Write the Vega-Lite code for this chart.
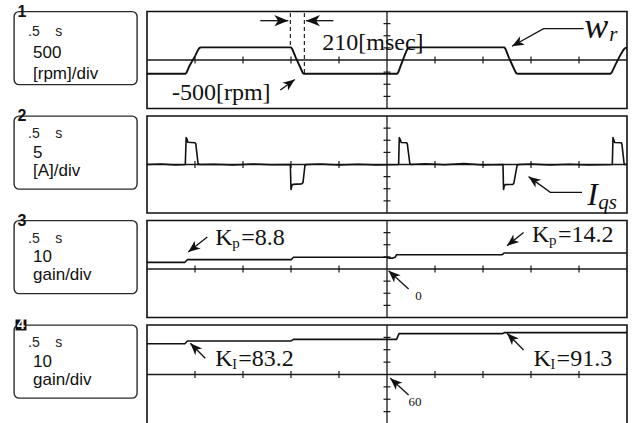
{
  "$schema": "https://vega.github.io/schema/vega-lite/v6.json",
  "padding": {"left": 13, "top": 2.5, "right": 2, "bottom": 0},
  "background": "white",
  "bounds": "flush",
  "columns": 2,
  "spacing": {"row": 7.5, "column": 10},
  "config": {"axis": {"disable": true}, "view": {"stroke": "#111"}},
  "datasets": {
    "tdivs": [{"t": -2}, {"t": -1.5}, {"t": -1}, {"t": -0.5}, {"t": 0.5}, {"t": 1}, {"t": 1.5}, {"t": 2}],
    "vdivs": [{"d": -3}, {"d": -2}, {"d": -1}, {"d": 1}, {"d": 2}, {"d": 3}],
    "speed": [
      {"t": -2.5, "v": -570}, {"t": -2.101, "v": -570}, {"t": -2.088, "v": -520}, {"t": -2.06, "v": -260}, {"t": -2.0, "v": 160}, {"t": -1.968, "v": 420}, {"t": -1.952, "v": 505}, {"t": -1.93, "v": 520},
      {"t": -1.0, "v": 520}, {"t": -0.988, "v": 460}, {"t": -0.95, "v": 100}, {"t": -0.9, "v": -330}, {"t": -0.878, "v": -530}, {"t": -0.862, "v": -570},
      {"t": 0.104, "v": -570}, {"t": 0.116, "v": -520}, {"t": 0.15, "v": -160}, {"t": 0.19, "v": 250}, {"t": 0.214, "v": 470}, {"t": 0.232, "v": 515}, {"t": 0.25, "v": 520},
      {"t": 1.222, "v": 520}, {"t": 1.234, "v": 460}, {"t": 1.27, "v": 100}, {"t": 1.32, "v": -340}, {"t": 1.343, "v": -530}, {"t": 1.358, "v": -570},
      {"t": 2.326, "v": -570}, {"t": 2.34, "v": -520}, {"t": 2.38, "v": -190}, {"t": 2.43, "v": 200}, {"t": 2.465, "v": 430}, {"t": 2.485, "v": 500}, {"t": 2.5, "v": 512}
    ],
    "current": [
      {"t": -2.5, "v": 0}, {"t": -2.35, "v": 0.2}, {"t": -2.2, "v": -0.2}, {"t": -2.101, "v": 0}, {"t": -2.092, "v": 11.1}, {"t": -2.083, "v": 10.5}, {"t": -2.075, "v": 9.2}, {"t": -2.0, "v": 9.0}, {"t": -1.992, "v": 8.6}, {"t": -1.968, "v": 0.3}, {"t": -1.955, "v": 0},
      {"t": -1.8, "v": 0.1}, {"t": -1.6, "v": -0.2}, {"t": -1.4, "v": 0.2}, {"t": -1.2, "v": -0.1},
      {"t": -1.007, "v": 0}, {"t": -1.0, "v": -10.3}, {"t": -0.99, "v": -8.6}, {"t": -0.98, "v": -8.2}, {"t": -0.89, "v": -8.0}, {"t": -0.875, "v": -7.5}, {"t": -0.855, "v": -0.4}, {"t": -0.84, "v": 0},
      {"t": -0.7, "v": 0.2}, {"t": -0.5, "v": -0.2}, {"t": -0.3, "v": 0.1}, {"t": -0.1, "v": -0.2},
      {"t": 0.121, "v": 0}, {"t": 0.128, "v": 11.1}, {"t": 0.138, "v": 10.3}, {"t": 0.148, "v": 9.1}, {"t": 0.205, "v": 9.0}, {"t": 0.212, "v": 8.4}, {"t": 0.238, "v": 0.3}, {"t": 0.25, "v": 0},
      {"t": 0.4, "v": 0.3}, {"t": 0.6, "v": -0.1}, {"t": 0.8, "v": 0.4}, {"t": 1.0, "v": -0.2},
      {"t": 1.208, "v": 0}, {"t": 1.214, "v": -10.3}, {"t": 1.222, "v": -8.7}, {"t": 1.232, "v": -8.3}, {"t": 1.31, "v": -8.2}, {"t": 1.322, "v": -7.6}, {"t": 1.355, "v": -0.4}, {"t": 1.37, "v": 0},
      {"t": 1.5, "v": 0.2}, {"t": 1.7, "v": -0.2}, {"t": 1.9, "v": 0.1}, {"t": 2.1, "v": -0.2},
      {"t": 2.347, "v": 0}, {"t": 2.354, "v": 11.1}, {"t": 2.362, "v": 10.2}, {"t": 2.372, "v": 9.1}, {"t": 2.44, "v": 9.0}, {"t": 2.447, "v": 8.4}, {"t": 2.47, "v": 0.3}, {"t": 2.48, "v": 0}, {"t": 2.5, "v": 0}
    ],
    "kp": [
      {"t": -2.5, "v": 5.5}, {"t": -2.105, "v": 5.5}, {"t": -2.08, "v": 7.7}, {"t": -0.998, "v": 7.7}, {"t": -0.975, "v": 9.7}, {"t": 0.0, "v": 9.7}, {"t": 0.02, "v": 9.0}, {"t": 0.06, "v": 9.0}, {"t": 0.085, "v": 9.7}, {"t": 0.1, "v": 11.8}, {"t": 1.2, "v": 11.8}, {"t": 1.222, "v": 13.2}, {"t": 2.5, "v": 13.2}
    ],
    "ki": [
      {"t": -2.5, "v": 84.9}, {"t": -2.105, "v": 84.9}, {"t": -2.08, "v": 87.1}, {"t": -0.998, "v": 87.1}, {"t": -0.975, "v": 88.4}, {"t": 0.1, "v": 88.4}, {"t": 0.125, "v": 93.0}, {"t": 1.2, "v": 93.0}, {"t": 1.222, "v": 93.8}, {"t": 2.5, "v": 93.8}
    ]
  },
  "concat": [
    {
      "width": 123, "height": 73,
      "view": {"stroke": "#2a2a2a", "strokeWidth": 1.4, "cornerRadius": 5},
      "data": {"values": [{"row": 0, "label": "1"}, {"row": 1, "label": ".5\u00a0\u00a0\u00a0\u00a0s"}, {"row": 2, "label": "500"}, {"row": 3, "label": "[rpm]/div"}]},
      "encoding": {"y": {"field": "row", "type": "quantitative", "scale": {"domain": [0, 3.53], "reverse": true, "nice": false, "zero": false}, "axis": null}},
      "layer": [
        {"transform": [{"filter": "datum.row == 0"}], "mark": {"type": "text", "font": "Liberation Sans", "fontWeight": "bold", "fontSize": 16, "align": "center", "baseline": "middle", "color": "#111"}, "encoding": {"x": {"value": 8}, "text": {"field": "label"}}},
        {"transform": [{"filter": "datum.row == 1"}], "mark": {"type": "text", "font": "Liberation Sans", "fontSize": 14, "align": "left", "baseline": "middle", "color": "#222"}, "encoding": {"x": {"value": 14}, "text": {"field": "label"}}},
        {"transform": [{"filter": "datum.row >= 2"}], "mark": {"type": "text", "font": "Liberation Sans", "fontSize": 17, "align": "left", "baseline": "middle", "color": "#111"}, "encoding": {"x": {"value": 19}, "text": {"field": "label"}}}
      ]
    },
    {
      "width": 480, "height": 97,
      "view": {"stroke": "#111", "strokeWidth": 1.6},
      "resolve": {"scale": {"y": "independent"}},
      "layer": [
        {
          "data": {"values": [{}]},
          "layer": [
            {"mark": {"type": "rule", "color": "#1a1a1a", "strokeWidth": 1.3}, "encoding": {"y": {"datum": 0, "type": "quantitative", "scale": {"domain": [-4, 4], "nice": false, "zero": false}, "axis": null}}},
            {"mark": {"type": "rule", "color": "#1a1a1a", "strokeWidth": 1.3}, "encoding": {"x": {"datum": 0, "type": "quantitative", "scale": {"domain": [-2.5, 2.5], "nice": false, "zero": false}, "axis": null}}},
            {"data": {"name": "tdivs"}, "mark": {"type": "tick", "orient": "vertical", "size": 7, "thickness": 1.2, "color": "#1a1a1a", "opacity": 1}, "encoding": {"x": {"field": "t", "type": "quantitative", "axis": null}, "y": {"datum": 0, "type": "quantitative", "axis": null}}},
            {"data": {"name": "vdivs"}, "mark": {"type": "tick", "orient": "horizontal", "size": 7, "thickness": 1.2, "color": "#1a1a1a", "opacity": 1}, "encoding": {"x": {"datum": 0, "type": "quantitative", "axis": null}, "y": {"field": "d", "type": "quantitative", "axis": null}}}
          ]
        },
        {
          "layer": [
            {"data": {"name": "speed"}, "mark": {"type": "line", "color": "#111", "strokeWidth": 1.9, "strokeJoin": "round"}, "encoding": {"x": {"field": "t", "type": "quantitative", "scale": {"domain": [-2.5, 2.5], "nice": false, "zero": false}, "axis": null}, "y": {"field": "v", "type": "quantitative", "scale": {"domain": [-2000, 2000], "nice": false, "zero": false}, "axis": null}}},
            {"data": {"values": [{"t": -1.007, "top": 1940, "bottom": 520}, {"t": -0.861, "top": 1940, "bottom": -570}]}, "mark": {"type": "rule", "color": "#111", "strokeWidth": 1.1, "strokeDash": [4, 3]}, "encoding": {"x": {"field": "t", "type": "quantitative", "axis": null}, "y": {"field": "top", "type": "quantitative", "axis": null}, "y2": {"field": "bottom"}}},
            {"data": {"values": [
              {"arrow": "a", "k": 0, "t": -1.32, "v": 1621}, {"arrow": "a", "k": 1, "t": -1.028, "v": 1621},
              {"arrow": "b", "k": 0, "t": -0.559, "v": 1621}, {"arrow": "b", "k": 1, "t": -0.844, "v": 1621},
              {"arrow": "c", "k": 0, "t": 2.048, "v": 1291}, {"arrow": "c", "k": 1, "t": 1.631, "v": 1291}, {"arrow": "c", "k": 2, "t": 1.302, "v": 565},
              {"arrow": "d", "k": 0, "t": -1.111, "v": -1237}, {"arrow": "d", "k": 1, "t": -0.96, "v": -804}
            ]}, "mark": {"type": "line", "color": "#111", "strokeWidth": 1.3}, "encoding": {"x": {"field": "t", "type": "quantitative", "axis": null}, "y": {"field": "v", "type": "quantitative", "axis": null}, "detail": {"field": "arrow", "type": "nominal"}, "order": {"field": "k", "type": "quantitative"}}},
            {"data": {"values": [{"t": -1.028, "v": 1621}]}, "mark": {"type": "point", "shape": "M0,0L-2,-0.8L-1.45,0L-2,0.8Z", "filled": true, "opacity": 1, "color": "#111", "size": 196, "angle": 0}, "encoding": {"x": {"field": "t", "type": "quantitative", "axis": null}, "y": {"field": "v", "type": "quantitative", "axis": null}}},
            {"data": {"values": [{"t": -0.844, "v": 1621}]}, "mark": {"type": "point", "shape": "M0,0L-2,-0.8L-1.45,0L-2,0.8Z", "filled": true, "opacity": 1, "color": "#111", "size": 196, "angle": 180}, "encoding": {"x": {"field": "t", "type": "quantitative", "axis": null}, "y": {"field": "v", "type": "quantitative", "axis": null}}},
            {"data": {"values": [{"t": 1.302, "v": 565}]}, "mark": {"type": "point", "shape": "M0,0L-2,-0.8L-1.45,0L-2,0.8Z", "filled": true, "opacity": 1, "color": "#111", "size": 144, "angle": 151}, "encoding": {"x": {"field": "t", "type": "quantitative", "axis": null}, "y": {"field": "v", "type": "quantitative", "axis": null}}},
            {"data": {"values": [{"t": -0.96, "v": -804}]}, "mark": {"type": "point", "shape": "M0,0L-2,-0.8L-1.45,0L-2,0.8Z", "filled": true, "opacity": 1, "color": "#111", "size": 144, "angle": -36}, "encoding": {"x": {"field": "t", "type": "quantitative", "axis": null}, "y": {"field": "v", "type": "quantitative", "axis": null}}},
            {"data": {"values": [{"t": -0.674, "v": 701, "label": "210[msec]"}, {"t": -2.24, "v": -1361, "label": "-500[rpm]"}]}, "mark": {"type": "text", "font": "Liberation Serif", "fontSize": 24, "align": "left", "baseline": "middle", "color": "#111"}, "encoding": {"x": {"field": "t", "type": "quantitative", "axis": null}, "y": {"field": "v", "type": "quantitative", "axis": null}, "text": {"field": "label"}}},
            {"data": {"values": [{"t": 2.055, "v": 907, "label": "w"}]}, "mark": {"type": "text", "font": "Liberation Serif", "fontStyle": "italic", "fontSize": 36, "align": "left", "baseline": "alphabetic", "color": "#111"}, "encoding": {"x": {"field": "t", "type": "quantitative", "axis": null}, "y": {"field": "v", "type": "quantitative", "axis": null}, "text": {"field": "label"}}},
            {"data": {"values": [{"t": 2.315, "v": 784, "label": "r"}]}, "mark": {"type": "text", "font": "Liberation Serif", "fontStyle": "italic", "fontSize": 21, "align": "left", "baseline": "alphabetic", "color": "#111"}, "encoding": {"x": {"field": "t", "type": "quantitative", "axis": null}, "y": {"field": "v", "type": "quantitative", "axis": null}, "text": {"field": "label"}}}
          ]
        }
      ]
    },
    {
      "width": 123, "height": 73,
      "view": {"stroke": "#2a2a2a", "strokeWidth": 1.4, "cornerRadius": 5},
      "data": {"values": [{"row": 0, "label": "2"}, {"row": 1, "label": ".5\u00a0\u00a0\u00a0\u00a0s"}, {"row": 2, "label": "5"}, {"row": 3, "label": "[A]/div"}]},
      "encoding": {"y": {"field": "row", "type": "quantitative", "scale": {"domain": [0, 4.0], "reverse": true, "nice": false, "zero": false}, "axis": null}},
      "layer": [
        {"transform": [{"filter": "datum.row == 0"}], "mark": {"type": "text", "font": "Liberation Sans", "fontWeight": "bold", "fontSize": 16, "align": "center", "baseline": "middle", "color": "#111"}, "encoding": {"x": {"value": 8}, "text": {"field": "label"}}},
        {"transform": [{"filter": "datum.row == 1"}], "mark": {"type": "text", "font": "Liberation Sans", "fontSize": 14, "align": "left", "baseline": "middle", "color": "#222"}, "encoding": {"x": {"value": 14}, "text": {"field": "label"}}},
        {"transform": [{"filter": "datum.row >= 2"}], "mark": {"type": "text", "font": "Liberation Sans", "fontSize": 17, "align": "left", "baseline": "middle", "color": "#111"}, "encoding": {"x": {"value": 19}, "text": {"field": "label"}}}
      ]
    },
    {
      "width": 480, "height": 97,
      "view": {"stroke": "#111", "strokeWidth": 1.6},
      "resolve": {"scale": {"y": "independent"}},
      "layer": [
        {
          "data": {"values": [{}]},
          "layer": [
            {"mark": {"type": "rule", "color": "#1a1a1a", "strokeWidth": 1.3}, "encoding": {"y": {"datum": 0, "type": "quantitative", "scale": {"domain": [-4, 4], "nice": false, "zero": false}, "axis": null}}},
            {"mark": {"type": "rule", "color": "#1a1a1a", "strokeWidth": 1.3}, "encoding": {"x": {"datum": 0, "type": "quantitative", "scale": {"domain": [-2.5, 2.5], "nice": false, "zero": false}, "axis": null}}},
            {"data": {"name": "tdivs"}, "mark": {"type": "tick", "orient": "vertical", "size": 7, "thickness": 1.2, "color": "#1a1a1a", "opacity": 1}, "encoding": {"x": {"field": "t", "type": "quantitative", "axis": null}, "y": {"datum": 0, "type": "quantitative", "axis": null}}},
            {"data": {"name": "vdivs"}, "mark": {"type": "tick", "orient": "horizontal", "size": 7, "thickness": 1.2, "color": "#1a1a1a", "opacity": 1}, "encoding": {"x": {"datum": 0, "type": "quantitative", "axis": null}, "y": {"field": "d", "type": "quantitative", "axis": null}}}
          ]
        },
        {
          "layer": [
            {"data": {"name": "current"}, "mark": {"type": "line", "color": "#111", "strokeWidth": 1.6, "strokeJoin": "round"}, "encoding": {"x": {"field": "t", "type": "quantitative", "scale": {"domain": [-2.5, 2.5], "nice": false, "zero": false}, "axis": null}, "y": {"field": "v", "type": "quantitative", "scale": {"domain": [-20, 20], "nice": false, "zero": false}, "axis": null}}},
            {"data": {"values": [
              {"arrow": "e", "k": 0, "t": 2.031, "v": -11.5}, {"arrow": "e", "k": 1, "t": 1.701, "v": -11.5}, {"arrow": "e", "k": 2, "t": 1.475, "v": -5.0}
            ]}, "mark": {"type": "line", "color": "#111", "strokeWidth": 1.3}, "encoding": {"x": {"field": "t", "type": "quantitative", "axis": null}, "y": {"field": "v", "type": "quantitative", "axis": null}, "detail": {"field": "arrow", "type": "nominal"}, "order": {"field": "k", "type": "quantitative"}}},
            {"data": {"values": [{"t": 1.475, "v": -5.0}]}, "mark": {"type": "point", "shape": "M0,0L-2,-0.8L-1.45,0L-2,0.8Z", "filled": true, "opacity": 1, "color": "#111", "size": 144, "angle": -144}, "encoding": {"x": {"field": "t", "type": "quantitative", "axis": null}, "y": {"field": "v", "type": "quantitative", "axis": null}}},
            {"data": {"values": [{"t": 2.086, "v": -16.7, "label": "I"}]}, "mark": {"type": "text", "font": "Liberation Serif", "fontStyle": "italic", "fontSize": 32, "align": "left", "baseline": "alphabetic", "color": "#111"}, "encoding": {"x": {"field": "t", "type": "quantitative", "axis": null}, "y": {"field": "v", "type": "quantitative", "axis": null}, "text": {"field": "label"}}},
            {"data": {"values": [{"t": 2.2, "v": -18.4, "label": "qs"}]}, "mark": {"type": "text", "font": "Liberation Serif", "fontStyle": "italic", "fontSize": 21, "align": "left", "baseline": "alphabetic", "color": "#111"}, "encoding": {"x": {"field": "t", "type": "quantitative", "axis": null}, "y": {"field": "v", "type": "quantitative", "axis": null}, "text": {"field": "label"}}}
          ]
        }
      ]
    },
    {
      "width": 123, "height": 73,
      "view": {"stroke": "#2a2a2a", "strokeWidth": 1.4, "cornerRadius": 5},
      "data": {"values": [{"row": 0, "label": "3"}, {"row": 1, "label": ".5\u00a0\u00a0\u00a0\u00a0s"}, {"row": 2, "label": "10"}, {"row": 3, "label": "gain/div"}]},
      "encoding": {"y": {"field": "row", "type": "quantitative", "scale": {"domain": [0, 4.0], "reverse": true, "nice": false, "zero": false}, "axis": null}},
      "layer": [
        {"transform": [{"filter": "datum.row == 0"}], "mark": {"type": "text", "font": "Liberation Sans", "fontWeight": "bold", "fontSize": 16, "align": "center", "baseline": "middle", "color": "#111"}, "encoding": {"x": {"value": 8}, "text": {"field": "label"}}},
        {"transform": [{"filter": "datum.row == 1"}], "mark": {"type": "text", "font": "Liberation Sans", "fontSize": 14, "align": "left", "baseline": "middle", "color": "#222"}, "encoding": {"x": {"value": 14}, "text": {"field": "label"}}},
        {"transform": [{"filter": "datum.row >= 2"}], "mark": {"type": "text", "font": "Liberation Sans", "fontSize": 17, "align": "left", "baseline": "middle", "color": "#111"}, "encoding": {"x": {"value": 19}, "text": {"field": "label"}}}
      ]
    },
    {
      "width": 480, "height": 97,
      "view": {"stroke": "#111", "strokeWidth": 1.6},
      "resolve": {"scale": {"y": "independent"}},
      "layer": [
        {
          "data": {"values": [{}]},
          "layer": [
            {"mark": {"type": "rule", "color": "#1a1a1a", "strokeWidth": 1.3}, "encoding": {"y": {"datum": 0, "type": "quantitative", "scale": {"domain": [-4, 4], "nice": false, "zero": false}, "axis": null}}},
            {"mark": {"type": "rule", "color": "#1a1a1a", "strokeWidth": 1.3}, "encoding": {"x": {"datum": 0, "type": "quantitative", "scale": {"domain": [-2.5, 2.5], "nice": false, "zero": false}, "axis": null}}},
            {"data": {"name": "tdivs"}, "mark": {"type": "tick", "orient": "vertical", "size": 7, "thickness": 1.2, "color": "#1a1a1a", "opacity": 1}, "encoding": {"x": {"field": "t", "type": "quantitative", "axis": null}, "y": {"datum": 0, "type": "quantitative", "axis": null}}},
            {"data": {"name": "vdivs"}, "mark": {"type": "tick", "orient": "horizontal", "size": 7, "thickness": 1.2, "color": "#1a1a1a", "opacity": 1}, "encoding": {"x": {"datum": 0, "type": "quantitative", "axis": null}, "y": {"field": "d", "type": "quantitative", "axis": null}}}
          ]
        },
        {
          "layer": [
            {"data": {"name": "kp"}, "mark": {"type": "line", "color": "#111", "strokeWidth": 1.6, "strokeJoin": "round"}, "encoding": {"x": {"field": "t", "type": "quantitative", "scale": {"domain": [-2.5, 2.5], "nice": false, "zero": false}, "axis": null}, "y": {"field": "v", "type": "quantitative", "scale": {"domain": [-40, 40], "nice": false, "zero": false}, "axis": null}}},
            {"data": {"values": [
              {"arrow": "f", "k": 0, "t": -1.872, "v": 26.4}, {"arrow": "f", "k": 1, "t": -2.07, "v": 14.0},
              {"arrow": "g", "k": 0, "t": 1.423, "v": 30.2}, {"arrow": "g", "k": 1, "t": 1.25, "v": 19.2},
              {"arrow": "h", "k": 0, "t": 0.225, "v": -16.5}, {"arrow": "h", "k": 1, "t": 0.017, "v": -1.4}
            ]}, "mark": {"type": "line", "color": "#111", "strokeWidth": 1.3}, "encoding": {"x": {"field": "t", "type": "quantitative", "axis": null}, "y": {"field": "v", "type": "quantitative", "axis": null}, "detail": {"field": "arrow", "type": "nominal"}, "order": {"field": "k", "type": "quantitative"}}},
            {"data": {"values": [{"t": -2.07, "v": 14.0}]}, "mark": {"type": "point", "shape": "M0,0L-2,-0.8L-1.45,0L-2,0.8Z", "filled": true, "opacity": 1, "color": "#111", "size": 144, "angle": 142}, "encoding": {"x": {"field": "t", "type": "quantitative", "axis": null}, "y": {"field": "v", "type": "quantitative", "axis": null}}},
            {"data": {"values": [{"t": 1.25, "v": 19.2}]}, "mark": {"type": "point", "shape": "M0,0L-2,-0.8L-1.45,0L-2,0.8Z", "filled": true, "opacity": 1, "color": "#111", "size": 144, "angle": 141}, "encoding": {"x": {"field": "t", "type": "quantitative", "axis": null}, "y": {"field": "v", "type": "quantitative", "axis": null}}},
            {"data": {"values": [{"t": 0.017, "v": -1.4}]}, "mark": {"type": "point", "shape": "M0,0L-2,-0.8L-1.45,0L-2,0.8Z", "filled": true, "opacity": 1, "color": "#111", "size": 144, "angle": -137}, "encoding": {"x": {"field": "t", "type": "quantitative", "axis": null}, "y": {"field": "v", "type": "quantitative", "axis": null}}},
            {"data": {"values": [{"t": -1.789, "v": 19.8, "sub": "p", "val": "=8.8"}, {"t": 1.51, "v": 22.3, "sub": "p", "val": "=14.2"}]},
              "layer": [
                {"mark": {"type": "text", "font": "Liberation Serif", "fontSize": 24, "align": "left", "baseline": "alphabetic", "color": "#111"}, "encoding": {"x": {"field": "t", "type": "quantitative", "axis": null}, "y": {"field": "v", "type": "quantitative", "axis": null}, "text": {"value": "K"}}},
                {"mark": {"type": "text", "font": "Liberation Serif", "fontSize": 15, "align": "left", "baseline": "alphabetic", "color": "#111", "dx": 17, "dy": 3}, "encoding": {"x": {"field": "t", "type": "quantitative", "axis": null}, "y": {"field": "v", "type": "quantitative", "axis": null}, "text": {"field": "sub"}}},
                {"mark": {"type": "text", "font": "Liberation Serif", "fontSize": 24, "align": "left", "baseline": "alphabetic", "color": "#111", "dx": 26}, "encoding": {"x": {"field": "t", "type": "quantitative", "axis": null}, "y": {"field": "v", "type": "quantitative", "axis": null}, "text": {"field": "val"}}}
              ]
            },
            {"data": {"values": [{"t": 0.295, "v": -22.0, "label": "0"}]}, "mark": {"type": "text", "font": "Liberation Serif", "fontSize": 13, "align": "left", "baseline": "middle", "color": "#111"}, "encoding": {"x": {"field": "t", "type": "quantitative", "axis": null}, "y": {"field": "v", "type": "quantitative", "axis": null}, "text": {"field": "label"}}}
          ]
        }
      ]
    },
    {
      "width": 123, "height": 73,
      "view": {"stroke": "#2a2a2a", "strokeWidth": 1.4, "cornerRadius": 5},
      "data": {"values": [{"row": 0, "label": "4"}, {"row": 1, "label": ".5\u00a0\u00a0\u00a0\u00a0s"}, {"row": 2, "label": "10"}, {"row": 3, "label": "gain/div"}]},
      "encoding": {"y": {"field": "row", "type": "quantitative", "scale": {"domain": [0, 4.0], "reverse": true, "nice": false, "zero": false}, "axis": null}},
      "layer": [
        {"transform": [{"filter": "datum.row == 0"}], "mark": {"type": "square", "size": 120, "color": "#111", "opacity": 1, "filled": true}, "encoding": {"x": {"value": 7}}},
        {"transform": [{"filter": "datum.row == 0"}], "mark": {"type": "text", "font": "Liberation Sans", "fontWeight": "bold", "fontSize": 14, "align": "center", "baseline": "middle", "color": "white"}, "encoding": {"x": {"value": 7}, "text": {"field": "label"}}},
        {"transform": [{"filter": "datum.row == 1"}], "mark": {"type": "text", "font": "Liberation Sans", "fontSize": 14, "align": "left", "baseline": "middle", "color": "#222"}, "encoding": {"x": {"value": 14}, "text": {"field": "label"}}},
        {"transform": [{"filter": "datum.row >= 2"}], "mark": {"type": "text", "font": "Liberation Sans", "fontSize": 17, "align": "left", "baseline": "middle", "color": "#111"}, "encoding": {"x": {"value": 19}, "text": {"field": "label"}}}
      ]
    },
    {
      "width": 480, "height": 99,
      "view": {"stroke": "#111", "strokeWidth": 1.6},
      "resolve": {"scale": {"y": "independent"}},
      "layer": [
        {
          "data": {"values": [{}]},
          "layer": [
            {"mark": {"type": "rule", "color": "#1a1a1a", "strokeWidth": 1.3}, "encoding": {"y": {"datum": 0, "type": "quantitative", "scale": {"domain": [-4, 4], "nice": false, "zero": false}, "axis": null}}},
            {"mark": {"type": "rule", "color": "#1a1a1a", "strokeWidth": 1.3}, "encoding": {"x": {"datum": 0, "type": "quantitative", "scale": {"domain": [-2.5, 2.5], "nice": false, "zero": false}, "axis": null}}},
            {"data": {"name": "tdivs"}, "mark": {"type": "tick", "orient": "vertical", "size": 7, "thickness": 1.2, "color": "#1a1a1a", "opacity": 1}, "encoding": {"x": {"field": "t", "type": "quantitative", "axis": null}, "y": {"datum": 0, "type": "quantitative", "axis": null}}},
            {"data": {"name": "vdivs"}, "mark": {"type": "tick", "orient": "horizontal", "size": 7, "thickness": 1.2, "color": "#1a1a1a", "opacity": 1}, "encoding": {"x": {"datum": 0, "type": "quantitative", "axis": null}, "y": {"field": "d", "type": "quantitative", "axis": null}}}
          ]
        },
        {
          "layer": [
            {"data": {"name": "ki"}, "mark": {"type": "line", "color": "#111", "strokeWidth": 1.6, "strokeJoin": "round"}, "encoding": {"x": {"field": "t", "type": "quantitative", "scale": {"domain": [-2.5, 2.5], "nice": false, "zero": false}, "axis": null}, "y": {"field": "v", "type": "quantitative", "scale": {"domain": [20, 100], "nice": false, "zero": false}, "axis": null}}},
            {"data": {"values": [
              {"arrow": "i", "k": 0, "t": -1.893, "v": 73.1}, {"arrow": "i", "k": 1, "t": -2.049, "v": 85.2},
              {"arrow": "j", "k": 0, "t": 1.423, "v": 79.8}, {"arrow": "j", "k": 1, "t": 1.25, "v": 93.3},
              {"arrow": "k", "k": 0, "t": 0.225, "v": 43.4}, {"arrow": "k", "k": 1, "t": 0.034, "v": 56.9}
            ]}, "mark": {"type": "line", "color": "#111", "strokeWidth": 1.3}, "encoding": {"x": {"field": "t", "type": "quantitative", "axis": null}, "y": {"field": "v", "type": "quantitative", "axis": null}, "detail": {"field": "arrow", "type": "nominal"}, "order": {"field": "k", "type": "quantitative"}}},
            {"data": {"values": [{"t": -2.049, "v": 85.2}]}, "mark": {"type": "point", "shape": "M0,0L-2,-0.8L-1.45,0L-2,0.8Z", "filled": true, "opacity": 1, "color": "#111", "size": 144, "angle": -135}, "encoding": {"x": {"field": "t", "type": "quantitative", "axis": null}, "y": {"field": "v", "type": "quantitative", "axis": null}}},
            {"data": {"values": [{"t": 1.25, "v": 93.3}]}, "mark": {"type": "point", "shape": "M0,0L-2,-0.8L-1.45,0L-2,0.8Z", "filled": true, "opacity": 1, "color": "#111", "size": 144, "angle": -135}, "encoding": {"x": {"field": "t", "type": "quantitative", "axis": null}, "y": {"field": "v", "type": "quantitative", "axis": null}}},
            {"data": {"values": [{"t": 0.034, "v": 56.9}]}, "mark": {"type": "point", "shape": "M0,0L-2,-0.8L-1.45,0L-2,0.8Z", "filled": true, "opacity": 1, "color": "#111", "size": 144, "angle": -138}, "encoding": {"x": {"field": "t", "type": "quantitative", "axis": null}, "y": {"field": "v", "type": "quantitative", "axis": null}}},
            {"data": {"values": [{"t": -1.789, "v": 66.6, "sub": "I", "val": "=83.2"}, {"t": 1.527, "v": 66.6, "sub": "I", "val": "=91.3"}]},
              "layer": [
                {"mark": {"type": "text", "font": "Liberation Serif", "fontSize": 24, "align": "left", "baseline": "alphabetic", "color": "#111"}, "encoding": {"x": {"field": "t", "type": "quantitative", "axis": null}, "y": {"field": "v", "type": "quantitative", "axis": null}, "text": {"value": "K"}}},
                {"mark": {"type": "text", "font": "Liberation Serif", "fontSize": 14, "align": "left", "baseline": "alphabetic", "color": "#111", "dx": 17, "dy": 3}, "encoding": {"x": {"field": "t", "type": "quantitative", "axis": null}, "y": {"field": "v", "type": "quantitative", "axis": null}, "text": {"field": "sub"}}},
                {"mark": {"type": "text", "font": "Liberation Serif", "fontSize": 24, "align": "left", "baseline": "alphabetic", "color": "#111", "dx": 23}, "encoding": {"x": {"field": "t", "type": "quantitative", "axis": null}, "y": {"field": "v", "type": "quantitative", "axis": null}, "text": {"field": "val"}}}
              ]
            },
            {"data": {"values": [{"t": 0.225, "v": 38.0, "label": "60"}]}, "mark": {"type": "text", "font": "Liberation Serif", "fontSize": 13, "align": "left", "baseline": "middle", "color": "#111"}, "encoding": {"x": {"field": "t", "type": "quantitative", "axis": null}, "y": {"field": "v", "type": "quantitative", "axis": null}, "text": {"field": "label"}}}
          ]
        }
      ]
    }
  ]
}
